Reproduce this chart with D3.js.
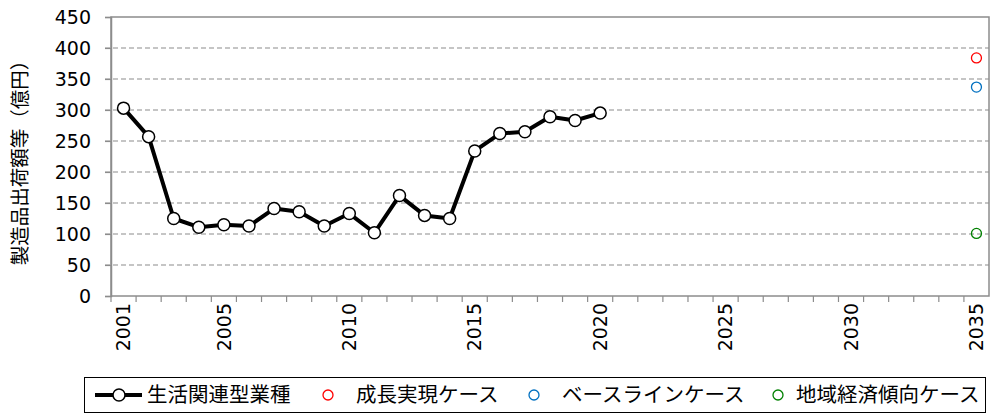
<!doctype html>
<html>
<head>
<meta charset="utf-8">
<script src="https://d3js.org/d3.v7.min.js"></script>
<style>
  body { margin: 0; background: #fff; }
  svg { font-family: "Noto Sans CJK JP", "Noto Sans", sans-serif; }
</style>
</head>
<body>
<svg id="chart" width="992" height="415"></svg>
<script>
var years = d3.range(2001, 2036);
var labelYears = [2001, 2005, 2010, 2015, 2020, 2025, 2030, 2035];
var yTicks = [0, 50, 100, 150, 200, 250, 300, 350, 400, 450];

var actualYears = [2001, 2002, 2003, 2004, 2005, 2006, 2007, 2008, 2009, 2010,
                   2011, 2012, 2013, 2014, 2015, 2016, 2017, 2018, 2019, 2020];
var actualValues = [303, 257, 125, 111, 115, 113, 141, 136, 113, 133,
                    102, 162, 130, 125, 234, 262, 265, 289, 283, 295];

var seriesName = "生活関連型業種";
var cases = ["成長実現ケース", "ベースラインケース", "地域経済傾向ケース"];
var caseValues = [384, 337, 101];
var caseColors = ["#ff0000", "#0070c0", "#008000"];
var caseYear = 2035;

var yTitle = "製造品出荷額等（億円）";

var svg = d3.select("#chart");
var pLeft = 111, pRight = 989, pTop = 17, pBottom = 296;

var x = d3.scaleBand().domain(years).range([pLeft, pRight]);
var y = d3.scaleLinear().domain([0, 450]).range([pBottom, pTop]);

// gridlines
svg.append("g")
  .selectAll("line")
  .data(yTicks.filter(d => d > 0 && d < 450))
  .enter().append("line")
    .attr("x1", pLeft - 6)
    .attr("x2", pRight)
    .attr("y1", d => y(d))
    .attr("y2", d => y(d))
    .style("stroke", "#8c8c8c")
    .style("stroke-width", "1.2px")
    .style("stroke-dasharray", "5,3");

// frame
svg.append("rect")
  .attr("x", pLeft).attr("y", pTop)
  .attr("width", pRight - pLeft).attr("height", pBottom - pTop)
  .style("fill", "none")
  .style("stroke", "#8c8c8c")
  .style("stroke-width", "1.5px");

// y axis
var yAxis = d3.axisLeft(y).tickValues(yTicks).tickSize(6).tickPadding(14);
var yG = svg.append("g")
  .attr("transform", "translate(" + pLeft + ",0)")
  .call(yAxis);
yG.select(".domain").style("stroke", "#8c8c8c").style("stroke-width", "1.5px");
yG.selectAll(".tick line").style("stroke", "#8c8c8c").style("stroke-width", "1.2px");
yG.selectAll("text")
  .style("font-size", "19px")
  .style("fill", "#000")
  .style("font-family", "'DejaVu Sans', sans-serif");

// x tick marks at category boundaries
svg.append("g")
  .selectAll("line")
  .data(years)
  .enter().append("line")
    .attr("x1", d => x(d))
    .attr("x2", d => x(d))
    .attr("y1", pBottom)
    .attr("y2", pBottom + 6)
    .style("stroke", "#8c8c8c")
    .style("stroke-width", "1.2px");

// x labels
var xAxis = d3.axisBottom(x).tickValues(labelYears).tickSize(0).tickPadding(0);
var xG = svg.append("g")
  .attr("transform", "translate(0," + pBottom + ")")
  .call(xAxis);
xG.select(".domain").remove();
xG.selectAll("text")
  .attr("transform", "rotate(-90)")
  .attr("x", -7)
  .attr("y", 0)
  .attr("dy", "0.35em")
  .style("text-anchor", "end")
  .style("font-size", "19px")
  .style("fill", "#000")
  .style("font-family", "'DejaVu Sans', sans-serif");

// y title
svg.append("text")
  .attr("transform", "translate(20,158) rotate(-90)")
  .attr("text-anchor", "middle")
  .attr("dy", "0.35em")
  .style("font-size", "19.5px")
  .text(yTitle);

// main line
var cx = d => x(d) + x.bandwidth() / 2;
var line = d3.line()
  .x((d, i) => cx(actualYears[i]))
  .y(d => y(d));

svg.append("path")
  .datum(actualValues)
  .attr("d", line)
  .style("fill", "none")
  .style("stroke", "#000")
  .style("stroke-width", "4px")
  .style("stroke-linejoin", "round");

svg.append("g")
  .selectAll("circle")
  .data(actualValues)
  .enter().append("circle")
    .attr("cx", (d, i) => cx(actualYears[i]))
    .attr("cy", d => y(d))
    .attr("r", 6)
    .style("fill", "#fff")
    .style("stroke", "#000")
    .style("stroke-width", "1.5px");

// scenario points
svg.append("g")
  .selectAll("circle")
  .data(caseValues)
  .enter().append("circle")
    .attr("cx", cx(caseYear))
    .attr("cy", d => y(d))
    .attr("r", 5)
    .style("fill", "none")
    .style("stroke", (d, i) => caseColors[i])
    .style("stroke-width", "1.3px");

// legend
var lg = svg.append("g");
lg.append("rect")
  .attr("x", 84.5).attr("y", 377.5)
  .attr("width", 901).attr("height", 35)
  .style("fill", "#fff")
  .style("stroke", "#000")
  .style("stroke-width", "1px");

var ly = 395;
lg.append("line")
  .attr("x1", 95).attr("x2", 142)
  .attr("y1", ly).attr("y2", ly)
  .style("stroke", "#000").style("stroke-width", "4px");
lg.append("circle")
  .attr("cx", 119).attr("cy", ly).attr("r", 6)
  .style("fill", "#fff").style("stroke", "#000").style("stroke-width", "1.5px");
lg.append("text")
  .attr("x", 147).attr("y", ly).attr("dy", "0.35em")
  .style("font-size", "20.5px")
  .text(seriesName);

var caseCircleX = [328, 534, 778];
var caseTextX = [356, 562, 796];
cases.forEach(function(c, i) {
  lg.append("circle")
    .attr("cx", caseCircleX[i]).attr("cy", ly).attr("r", 5)
    .style("fill", "none").style("stroke", caseColors[i]).style("stroke-width", "1.3px");
  lg.append("text")
    .attr("x", caseTextX[i]).attr("y", ly).attr("dy", "0.35em")
    .style("font-size", "20.5px")
    .text(c);
});
</script>
</body>
</html>
